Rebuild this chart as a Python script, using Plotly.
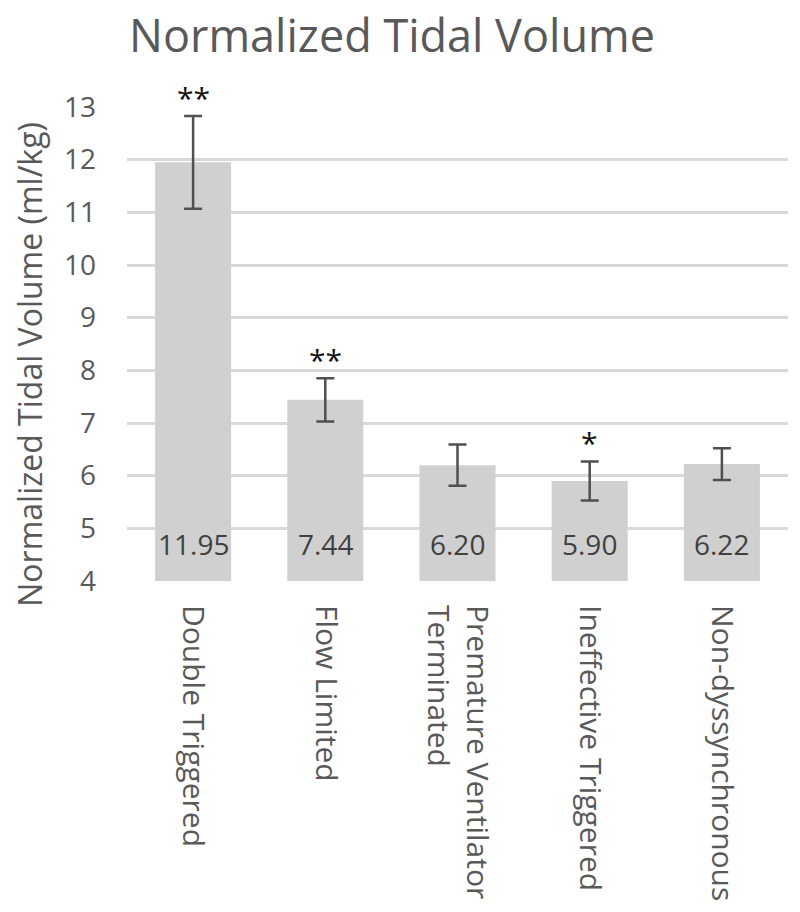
import plotly.graph_objects as go

categories = ["Double Triggered", "Flow Limited", "Premature Ventilator<br>Terminated",
              "Ineffective Triggered", "Non-dyssynchronous"]
values = [11.95, 7.44, 6.20, 5.90, 6.22]
errors = [0.88, 0.41, 0.39, 0.37, 0.30]
labels = ["11.95", "7.44", "6.20", "5.90", "6.22"]
significance = ["**", "**", "", "*", ""]
y_ticks = [4, 5, 6, 7, 8, 9, 10, 11, 12, 13]

FONT = "Open Sans"
TXT = "#595959"
AXIS_MIN = 4

fig = go.Figure()
fig.add_trace(go.Bar(
    x=categories,
    y=[v - AXIS_MIN for v in values],
    base=AXIS_MIN,
    marker=dict(color="#d0d0d0", line=dict(width=0)),
    error_y=dict(type="data", array=errors, visible=True, color="#505050",
                 thickness=2.5, width=9),
    hoverinfo="skip",
))

for c, lab in zip(categories, labels):
    fig.add_annotation(x=c, y=AXIS_MIN, text=lab, showarrow=False, yanchor="bottom",
                       yshift=16, font=dict(family=FONT, size=28, color="#404040"))

for c, v, e, s in zip(categories, values, errors, significance):
    if s:
        fig.add_annotation(x=c, y=v + e, text=s, showarrow=False, yanchor="bottom",
                           yshift=-4, font=dict(family=FONT, size=30, color="#111111"))

# y-axis title as a rotated annotation (centred like the original)
fig.add_annotation(x=-0.147, xref="paper", y=0.458, yref="paper",
                   text="Normalized Tidal Volume (ml/kg)",
                   showarrow=False, textangle=-90, xanchor="center", yanchor="middle",
                   font=dict(family=FONT, size=32, color=TXT))

fig.update_layout(
    width=800, height=912,
    paper_bgcolor="white", plot_bgcolor="white",
    margin=dict(l=119, r=20, t=99, b=339, autoexpand=False),
    bargap=0.425,
    showlegend=False,
    title=dict(text="Normalized Tidal Volume", x=0.48, xanchor="center", y=0.969, yanchor="middle",
               font=dict(family=FONT, size=45, color=TXT)),
    font=dict(family=FONT, color=TXT),
)
fig.update_yaxes(range=[4, 13], tickvals=y_ticks, showgrid=True, gridcolor="#d9d9d9",
                 gridwidth=2.5, zeroline=False, showline=False, automargin=False,
                 tickfont=dict(family=FONT, size=28, color=TXT), ticks="",
                 ticklabelstandoff=30)
fig.update_xaxes(tickangle=90, showline=False, ticks="", showgrid=False, automargin=False,
                 ticklabelstandoff=23,
                 tickfont=dict(family=FONT, size=30, color=TXT))

fig.write_html("out.html")
